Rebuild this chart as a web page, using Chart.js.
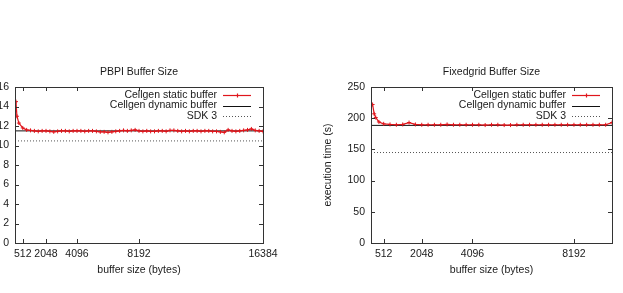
<!DOCTYPE html>
<html>
<head>
<meta charset="utf-8">
<title>Buffer Size</title>
<script src="https://cdn.jsdelivr.net/npm/chart.js@4.4.0/dist/chart.umd.min.js"></script>
<style>
body { margin: 0; background: #fff; }
.wrap { position: relative; width: 623px; height: 293px; overflow: hidden; }
#pbpi { position: absolute; left: 0; top: 0; }
#fixed { position: absolute; left: 300px; top: 0; }
</style>
</head>
<body>
<div class="wrap">
  <canvas id="pbpi" width="300" height="293"></canvas>
  <canvas id="fixed" width="323" height="293"></canvas>
</div>
<script>
// series names (legend order)
var seriesNames = ['Cellgen static buffer', 'Cellgen dynamic buffer', 'SDK 3'];

// PBPI
var pbpiBytes = [64, 128, 256, 512, 768, 1024, 1280, 1536, 1792, 2048,
  2304, 2560, 2816, 3072, 3328, 3584, 3840, 4096, 4352, 4608,
  4864, 5120, 5376, 5632, 5888, 6144, 6400, 6656, 6912, 7168,
  7424, 7680, 7936, 8192, 8448, 8704, 8960, 9216, 9472, 9728,
  9984, 10240, 10496, 10752, 11008, 11264, 11520, 11776, 12032, 12288,
  12544, 12800, 13056, 13312, 13568, 13824, 14080, 14336, 14592, 14848,
  15104, 15360, 15616, 15872, 16128, 16384];
var pbpiStatic = [14.5, 13.0, 12.3, 11.8, 11.6, 11.55, 11.5, 11.45, 11.5, 11.5,
  11.45, 11.4, 11.45, 11.5, 11.5, 11.45, 11.5, 11.5, 11.5, 11.45,
  11.5, 11.5, 11.45, 11.4, 11.4, 11.35, 11.4, 11.45, 11.5, 11.55,
  11.5, 11.55, 11.6, 11.5, 11.45, 11.5, 11.45, 11.45, 11.5, 11.5,
  11.45, 11.55, 11.55, 11.5, 11.45, 11.5, 11.45, 11.5, 11.5, 11.45,
  11.5, 11.5, 11.45, 11.45, 11.4, 11.35, 11.6, 11.5, 11.45, 11.5,
  11.55, 11.6, 11.7, 11.55, 11.5, 11.45];
var pbpiDynamic = 11.5;
var pbpiSdk = 10.47;
var pbpiXTicks = [512, 2048, 4096, 8192, 16384];
var pbpiXRange = [0, 16384];
var pbpiYRange = [0, 16, 2];

// Fixedgrid
var fgBytes = [64, 128, 192, 320, 512, 768, 1024, 1280, 1536, 1792,
  2048, 2304, 2560, 2816, 3072, 3328, 3584, 3840, 4096, 4352,
  4608, 4864, 5120, 5376, 5632, 5888, 6144, 6400, 6656, 6912,
  7168, 7424, 7680, 7936, 8192, 8448, 8704, 8960, 9216, 9472,
  9728];
var fgStatic = [222, 207, 201, 194, 191, 190, 189.5, 190, 193, 190,
  189.5, 189.5, 189.5, 189.5, 190, 189.5, 189.5, 189.5, 189.5, 189.5,
  189, 189.5, 189.5, 189, 189, 189.5, 189.5, 189.5, 189.5, 189.5,
  189.5, 189.5, 189.5, 189.5, 189.5, 189.5, 189.5, 189.5, 189.5, 189.5,
  193];
var fgDynamic = 188.5;
var fgSdk = 145;
var fgXTicks = [512, 2048, 4096, 8192];
var fgXRange = [0, 9728];
var fgYRange = [0, 250, 50];

var red = '#e0161c';
var ink = '#1a1a1a';
var fontFamily = '"Liberation Sans", Arial, sans-serif';

Chart.defaults.font.family = fontFamily;
Chart.defaults.font.size = 10.5;
Chart.defaults.color = ink;

function pairs(xs, ys) {
  return xs.map(function (x, i) { return {x: x, y: ys[i]}; });
}
function flat(range, y) {
  return [{x: range[0], y: y}, {x: range[1], y: y}];
}

// gnuplot look: box, inward ticks on all sides, title, legend inside top right
var gnuplotFrame = {
  id: 'gnuplotFrame',
  afterDraw: function (chart) {
    var ctx = chart.ctx, a = chart.chartArea;
    var xs = chart.scales.x, ys = chart.scales.y;
    var tl = 4;
    ctx.save();
    ctx.strokeStyle = '#333';
    ctx.lineWidth = 1;
    ctx.strokeRect(Math.round(a.left) + 0.5, Math.round(a.top) + 0.5,
      Math.round(a.right - a.left), Math.round(a.bottom - a.top));
    ctx.beginPath();
    xs.ticks.forEach(function (t) {
      var px = Math.round(xs.getPixelForValue(t.value)) + 0.5;
      ctx.moveTo(px, a.bottom); ctx.lineTo(px, a.bottom - tl);
      ctx.moveTo(px, a.top); ctx.lineTo(px, a.top + tl);
    });
    ys.ticks.forEach(function (t) {
      var py = Math.round(ys.getPixelForValue(t.value)) + 0.5;
      ctx.moveTo(a.left, py); ctx.lineTo(a.left + tl, py);
      ctx.moveTo(a.right, py); ctx.lineTo(a.right - tl, py);
    });
    ctx.stroke();

    // title
    ctx.fillStyle = ink;
    ctx.font = '10.5px ' + fontFamily;
    ctx.textAlign = 'center';
    ctx.textBaseline = 'middle';
    ctx.fillText(chart.options.plugins.gnuplotFrame.title, (a.left + a.right) / 2, a.top - 15);

    // legend
    ctx.textAlign = 'right';
    chart.data.datasets.forEach(function (ds, i) {
      var y = a.top + 8 + i * 10.5;
      ctx.fillStyle = ink;
      ctx.fillText(ds.label, a.right - 46, y);
      var yy = Math.round(y) + 0.5;
      ctx.beginPath();
      ctx.strokeStyle = ds.borderColor;
      ctx.lineWidth = ds.borderWidth;
      ctx.setLineDash(ds.borderDash || []);
      ctx.moveTo(a.right - 40, yy);
      ctx.lineTo(a.right - 12, yy);
      ctx.stroke();
      ctx.setLineDash([]);
      if (ds.pointRadius) {
        var cx = a.right - 26;
        ctx.beginPath();
        ctx.moveTo(cx - 2, yy); ctx.lineTo(cx + 2, yy);
        ctx.moveTo(cx + 0.5, yy - 2); ctx.lineTo(cx + 0.5, yy + 2);
        ctx.stroke();
      }
    });
    ctx.restore();
  }
};

function makeChart(id, cfg) {
  return new Chart(document.getElementById(id), {
    type: 'line',
    data: {
      datasets: [
        {
          label: seriesNames[0],
          data: pairs(cfg.bytes, cfg.stat),
          borderColor: red,
          borderWidth: 1.2,
          pointStyle: 'cross',
          pointRadius: 2,
          pointBorderWidth: 1,
          pointBorderColor: red,
          tension: 0
        },
        {
          label: seriesNames[1],
          data: flat(cfg.xRange, cfg.dyn),
          borderColor: '#111',
          borderWidth: 1,
          pointRadius: 0
        },
        {
          label: seriesNames[2],
          data: flat(cfg.xRange, cfg.sdk),
          borderColor: '#555',
          borderWidth: 1,
          borderDash: [1, 2],
          pointRadius: 0
        }
      ]
    },
    options: {
      responsive: false,
      animation: false,
      layout: { padding: { top: 87, right: cfg.padRight, left: 0, bottom: 0 } },
      plugins: {
        legend: { display: false },
        tooltip: { enabled: false },
        gnuplotFrame: { title: cfg.title }
      },
      scales: {
        x: {
          type: 'linear',
          min: cfg.xRange[0],
          max: cfg.xRange[1],
          grid: { display: false, drawTicks: false },
          border: { display: false },
          ticks: {
            autoSkip: false,
            maxRotation: 0,
            padding: 5,
            callback: function (v) { return String(v); }
          },
          afterBuildTicks: function (s) {
            s.ticks = cfg.xTicks.map(function (v) { return {value: v}; });
          },
          afterFit: function (s) { s.height = 50; },
          title: {
            display: true,
            text: 'buffer size (bytes)',
            padding: { top: 0, bottom: 17 }
          }
        },
        y: {
          min: cfg.yRange[0],
          max: cfg.yRange[1],
          grid: { display: false, drawTicks: false },
          border: { display: false },
          ticks: { stepSize: cfg.yRange[2], padding: 6 },
          afterFit: function (s) { s.width = cfg.yWidth; },
          title: {
            display: cfg.yTitle,
            text: 'execution time (s)',
            padding: { top: 22, bottom: 0 }
          }
        }
      }
    },
    plugins: [gnuplotFrame]
  });
}

makeChart('pbpi', {
  title: 'PBPI Buffer Size',
  bytes: pbpiBytes, stat: pbpiStatic, dyn: pbpiDynamic, sdk: pbpiSdk,
  xTicks: pbpiXTicks, xRange: pbpiXRange, yRange: pbpiYRange,
  yWidth: 15, padRight: 37, yTitle: false
});

makeChart('fixed', {
  title: 'Fixedgrid Buffer Size',
  bytes: fgBytes, stat: fgStatic, dyn: fgDynamic, sdk: fgSdk,
  xTicks: fgXTicks, xRange: fgXRange, yRange: fgYRange,
  yWidth: 71, padRight: 11, yTitle: true
});
</script>
</body>
</html>
